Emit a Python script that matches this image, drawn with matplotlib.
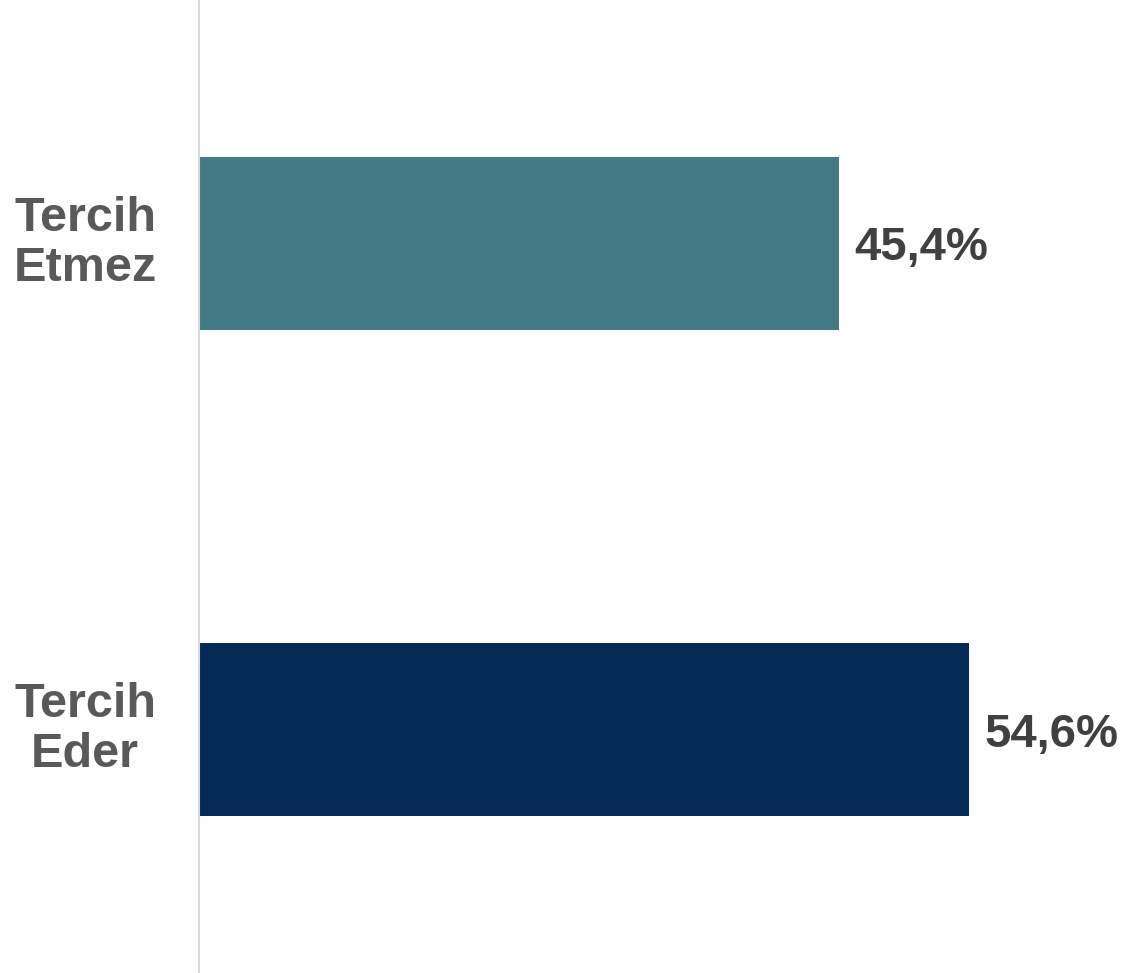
import numpy as np
import matplotlib.pyplot as plt

categories = ["Tercih\nEder", "Tercih\nEtmez"]
values = [54.6, 45.4]
colors = ["#042a55", "#437a84"]
value_labels = ["54,6%", "45,4%"]

plt.rcParams['font.family'] = ['Liberation Sans', 'DejaVu Sans']

fig = plt.figure(figsize=(11.24, 9.73), dpi=100)
ax = fig.add_axes([199 / 1124, 0, 1 - 199 / 1124, 1])

y = np.arange(len(categories))
ax.barh(y, values, height=0.355, color=colors)

for yi, v, lab in zip(y, values, value_labels):
    ax.text(v + 1.1, yi, lab, va="center_baseline", ha="left", fontsize=34,
            fontweight="bold", color="#404040")

ax.set_xlim(0, 65.6)
ax.set_ylim(-0.5, 1.5)
ax.set_yticks(y)
ax.set_yticklabels(categories, fontsize=35, fontweight="bold", color="#595959",
                   ha="center", va="center", linespacing=1.15)
ax.tick_params(axis="y", length=0, pad=82)
ax.set_xticks([])

for s in ["top", "right", "bottom"]:
    ax.spines[s].set_visible(False)
ax.spines["left"].set_color("#d9d9d9")
ax.spines["left"].set_linewidth(1.5)

fig.savefig("out.png", dpi=100)
